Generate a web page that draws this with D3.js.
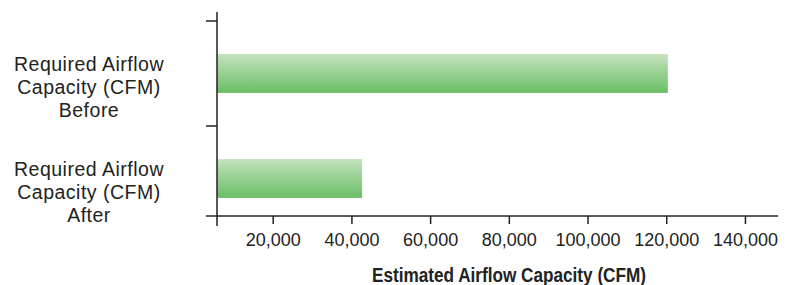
<!DOCTYPE html>
<meta charset="utf-8">
<style>
    body { margin: 0; background: #fff; }
    text { fill: #222; }
    .tick-label { font: 18px "Liberation Sans", Arial, sans-serif; }
    .cat-label { font: 19.5px "Liberation Sans", Arial, sans-serif; letter-spacing: 0.5px; }
    .axis-title { font: bold 20px "Liberation Sans", Arial, sans-serif; }
    .axis-line { stroke: #222; stroke-width: 1.5px; fill: none; }
</style>
<svg width="786" height="285"></svg>
<script src="https://d3js.org/d3.v7.min.js"></script>
<script>

    // data
    var categories = ["Before", "After"];
    var labelLines = [
        ["Required Airflow", "Capacity (CFM)", "Before"],
        ["Required Airflow", "Capacity (CFM)", "After"]
    ];
    var values = [120400, 42700];
    var xTicks = [20000, 40000, 60000, 80000, 100000, 120000, 140000];
    var xDomain = [5840, 148400];
    var xTitle = "Estimated Airflow Capacity (CFM)";

    var svg = d3.select("svg");

    var left = 217, right = 778, axisY = 216;

    var x = d3.scaleLinear().domain(xDomain).range([left, right]);
    var y = d3.scaleBand().domain(categories).range([21, 231])
        .paddingInner(0.63).paddingOuter(0.315);

    var gap = (y.step() - y.bandwidth()) / 2;

    // gradient for the bars
    var grad = svg.append("defs").append("linearGradient")
        .attr("id", "barGrad")
        .attr("x1", 0).attr("y1", 0).attr("x2", 0).attr("y2", 1);
    grad.append("stop").attr("offset", "0%").attr("stop-color", "#c4e2bd");
    grad.append("stop").attr("offset", "100%").attr("stop-color", "#69be65");

    // bars
    svg.selectAll(".bar")
        .data(categories)
        .enter().append("rect")
        .attr("class", "bar")
        .attr("x", x(xDomain[0]))
        .attr("y", d => y(d))
        .attr("width", (d, i) => x(values[i]) - x(xDomain[0]))
        .attr("height", y.bandwidth())
        .attr("fill", "url(#barGrad)");

    // y axis line + ticks at band edges
    svg.append("line").attr("class", "axis-line")
        .attr("x1", left).attr("x2", left).attr("y1", 12).attr("y2", axisY + 10);
    svg.selectAll(".ytick")
        .data(categories)
        .enter().append("line")
        .attr("class", "axis-line")
        .attr("x1", left - 11).attr("x2", left)
        .attr("y1", d => y(d) - gap).attr("y2", d => y(d) - gap);

    // x axis
    var xAxis = svg.append("g")
        .attr("transform", "translate(0," + axisY + ")")
        .call(d3.axisBottom(x).tickValues(xTicks).tickSize(8).tickSizeOuter(0)
            .tickFormat(d3.format(",")));
    xAxis.select(".domain").remove();
    xAxis.selectAll(".tick line").attr("class", "axis-line");
    xAxis.selectAll(".tick text")
        .attr("class", "tick-label")
        .attr("font-size", null).attr("font-family", null)
        .attr("y", 0).attr("dy", 0)
        .attr("transform", "translate(0,29.5)");
    svg.append("line").attr("class", "axis-line")
        .attr("x1", left - 11).attr("x2", right).attr("y1", axisY).attr("y2", axisY);

    // category labels
    svg.selectAll(".cat")
        .data(categories)
        .enter().append("text")
        .attr("class", "cat-label")
        .attr("text-anchor", "middle")
        .each(function(d, i) {
            var t = d3.select(this);
            var cy = y(d) + y.bandwidth() / 2 + 20.5;
            labelLines[i].forEach(function(line, j) {
                t.append("tspan")
                    .attr("x", 89)
                    .attr("y", cy + (j - 1) * 23.3)
                    .text(line);
            });
        });

    // axis title (condensed face in the original)
    svg.append("text")
        .attr("class", "axis-title")
        .attr("text-anchor", "middle")
        .attr("x", 509)
        .attr("y", 281.5)
        .attr("textLength", 274)
        .attr("lengthAdjust", "spacingAndGlyphs")
        .text(xTitle);

</script>
